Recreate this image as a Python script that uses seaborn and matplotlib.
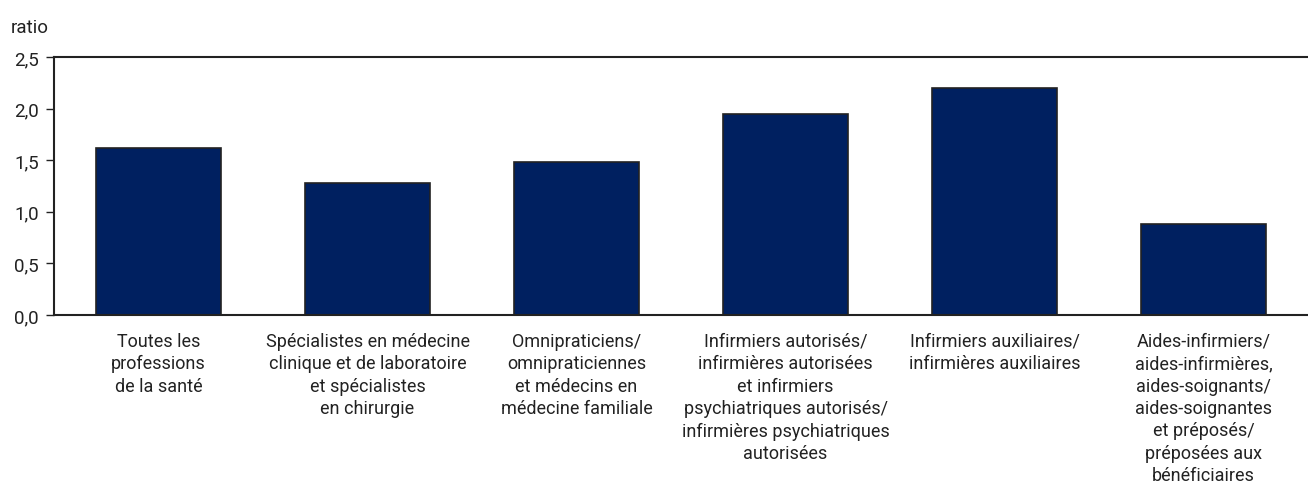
import matplotlib
matplotlib.use("Agg")
import matplotlib.pyplot as plt
import seaborn as sns
import pandas as pd

# categories (x labels) and ratio values
categories = [
    "Toutes les\nprofessions\nde la santé",
    "Spécialistes en médecine\nclinique et de laboratoire\net spécialistes\nen chirurgie",
    "Omnipraticiens/\nomnipraticiennes\net médecins en\nmédecine familiale",
    "Infirmiers autorisés/\ninfirmières autorisées\net infirmiers\npsychiatriques autorisés/\ninfirmières psychiatriques\nautorisées",
    "Infirmiers auxiliaires/\ninfirmières auxiliaires",
    "Aides-infirmiers/\naides-infirmières,\naides-soignants/\naides-soignantes\net préposés/\npréposées aux\nbénéficiaires",
]
ratios = [1.62, 1.28, 1.48, 1.95, 2.20, 0.88]
y_ticks = [0.0, 0.5, 1.0, 1.5, 2.0, 2.5]

sns.set_style("ticks")
plt.rcParams["font.family"] = ["Liberation Sans Narrow", "Roboto", "DejaVu Sans"]
text_color = "#222222"

df = pd.DataFrame({"cat": categories, "ratio": ratios})

fig = plt.figure(figsize=(13.08, 4.89), dpi=100)
ax = fig.add_axes([0.0413, 0.354, 0.9587, 0.527])

sns.barplot(data=df, x="cat", y="ratio", color="#002060", width=0.6,
            edgecolor="#222222", linewidth=1.2, saturation=1, ax=ax)

ax.set_xlim(-0.5, 5.5)
ax.set_ylim(0, 2.5)
ax.set_yticks(y_ticks)
ax.set_yticklabels([f"{v:.1f}".replace(".", ",") for v in y_ticks])
ax.set_xlabel("")
ax.set_ylabel("")

for side in ["left", "bottom", "top"]:
    ax.spines[side].set_visible(True)
    ax.spines[side].set_color("#222222")
    ax.spines[side].set_linewidth(1.5)
ax.spines["right"].set_visible(False)

ax.tick_params(axis="y", direction="out", length=6, width=1, color="#222222",
               labelsize=13.5, labelcolor=text_color, pad=5)
ax.tick_params(axis="x", length=0, labelsize=13, labelcolor=text_color, pad=12)
for lab in ax.get_xticklabels():
    lab.set_linespacing(1.32)
    lab.set_horizontalalignment("center")

fig.text(0.008, 0.943, "ratio", fontsize=13.5, color=text_color, ha="left", va="center")

fig.savefig("out.png", dpi=100)
